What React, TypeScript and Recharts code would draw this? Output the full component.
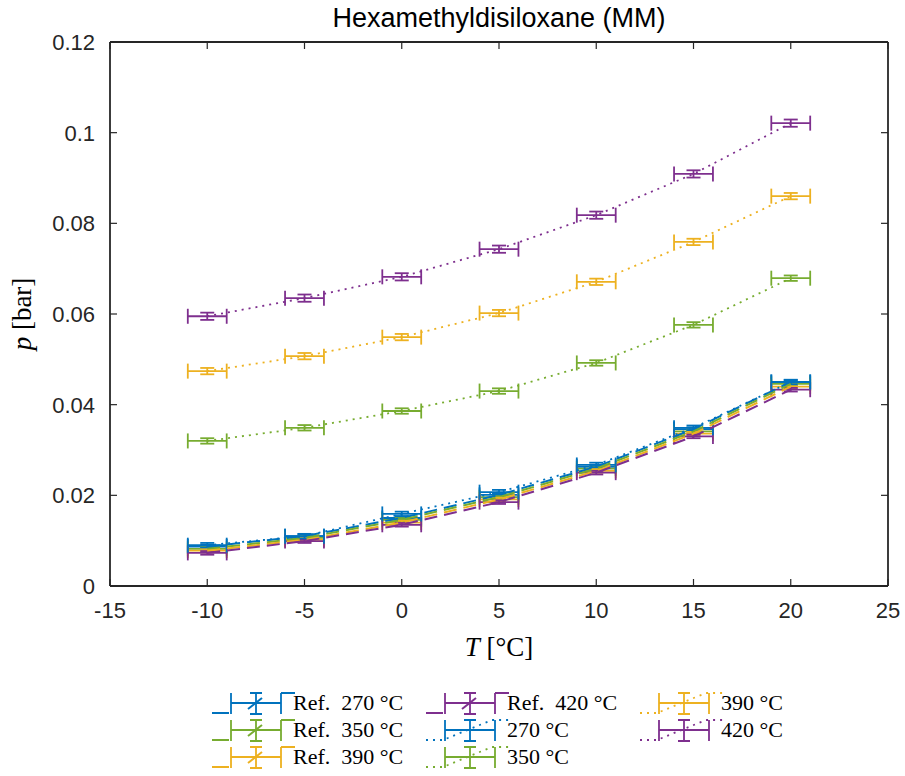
import React from 'react';
import { ScatterChart, Scatter, XAxis, YAxis, ErrorBar } from 'recharts';

// ---- data ----
const temps = [-10, -5, 0, 5, 10, 15, 20];
const tempErr = 1;

const ref270 = [0.0087, 0.0110, 0.0150, 0.0201, 0.0263, 0.0346, 0.0450];
const ref350 = [0.0082, 0.0106, 0.0146, 0.0196, 0.0259, 0.0341, 0.0446];
const ref390 = [0.0078, 0.0102, 0.0140, 0.0191, 0.0254, 0.0336, 0.0440];
const ref420 = [0.0073, 0.0099, 0.0135, 0.0185, 0.0250, 0.0330, 0.0433];

const meas270 = [0.0090, 0.0110, 0.0159, 0.0207, 0.0267, 0.0349, 0.0450];
const meas350 = [0.0320, 0.0349, 0.0386, 0.0430, 0.0492, 0.0576, 0.0679];
const meas390 = [0.0474, 0.0507, 0.0549, 0.0602, 0.0671, 0.0759, 0.0860];
const meas420 = [0.0595, 0.0635, 0.0682, 0.0743, 0.0818, 0.0909, 0.1021];

const refErr = [0.0004, 0.0004, 0.0004, 0.0004];
const measErr = [0.0005, 0.0006, 0.0007, 0.0008];

const xTicks = [-15, -10, -5, 0, 5, 10, 15, 20, 25];
const yTicks = [0, 0.02, 0.04, 0.06, 0.08, 0.1, 0.12];
const yTickLabels = ['0', '0.02', '0.04', '0.06', '0.08', '0.1', '0.12'];

const names = ['Ref.\u00A0\u00A0270\u00A0°C', 'Ref.\u00A0\u00A0350\u00A0°C', 'Ref.\u00A0\u00A0390\u00A0°C', 'Ref.\u00A0\u00A0420\u00A0°C', '270\u00A0°C', '350\u00A0°C', '390\u00A0°C', '420\u00A0°C'];
const colors = ['#0072BD', '#77AC30', '#EDB120', '#7E2F8E', '#0072BD', '#77AC30', '#EDB120', '#7E2F8E'];

const build = (vals: number[], ye: number) =>
  temps.map((t, i) => ({ x: t, y: vals[i], xe: tempErr, ye }));

const series = [
  { name: names[0], color: colors[0], data: build(ref270, refErr[0]), ref: true },
  { name: names[1], color: colors[1], data: build(ref350, refErr[1]), ref: true },
  { name: names[2], color: colors[2], data: build(ref390, refErr[2]), ref: true },
  { name: names[3], color: colors[3], data: build(ref420, refErr[3]), ref: true },
  { name: names[4], color: colors[4], data: build(meas270, measErr[0]), ref: false },
  { name: names[5], color: colors[5], data: build(meas350, measErr[1]), ref: false },
  { name: names[6], color: colors[6], data: build(meas390, measErr[2]), ref: false },
  { name: names[7], color: colors[7], data: build(meas420, measErr[3]), ref: false },
];

const AX = '#262626';
const SANS = '"Liberation Sans", Arial, Helvetica, sans-serif';
const SERIF = '"Liberation Serif", "Times New Roman", serif';
const DASH = '13 7';
const DOT = '2 5';

const XTickBottom = (p: any) => (
  <g>
    <line x1={p.x} x2={p.x} y1={p.y} y2={p.y - 7} stroke={AX} strokeWidth={1.2} />
    <text x={p.x} y={p.y + 32} textAnchor="middle" fontFamily={SANS} fontSize={22} fill={AX}>
      {p.payload.value}
    </text>
  </g>
);
const XTickTop = (p: any) => (
  <line x1={p.x} x2={p.x} y1={p.y} y2={p.y + 7} stroke={AX} strokeWidth={1.2} />
);
const YTickLeft = (p: any) => {
  const idx = yTicks.indexOf(p.payload.value);
  return (
    <g>
      <line x1={p.x} x2={p.x + 7} y1={p.y} y2={p.y} stroke={AX} strokeWidth={1.2} />
      <text x={p.x - 15} y={p.y + 8} textAnchor="end" fontFamily={SANS} fontSize={22} fill={AX}>
        {idx >= 0 ? yTickLabels[idx] : p.payload.value}
      </text>
    </g>
  );
};
const YTickRight = (p: any) => (
  <line x1={p.x} x2={p.x - 7} y1={p.y} y2={p.y} stroke={AX} strokeWidth={1.2} />
);

const NoShape = () => <g />;

const LegendIcon = ({ x0, y, color, isRef }: { x0: number; y: number; color: string; isRef: boolean }) => (
  <g stroke={color} strokeWidth={isRef ? 2 : 1.8} fill="none">
    {isRef ? (
      <>
        <path d={`M${x0} ${y + 10} H${x0 + 17}`} />
        <path d={`M${x0 + 36} ${y + 6} L${x0 + 50} ${y - 5}`} />
        <path d={`M${x0 + 69} ${y - 10} H${x0 + 83}`} />
      </>
    ) : (
      <path d={`M${x0} ${y + 10} H${x0 + 17} L${x0 + 66} ${y - 10} H${x0 + 83}`} strokeDasharray={DOT} />
    )}
    <path d={`M${x0 + 19} ${y} H${x0 + 69}`} strokeWidth={1.8} />
    <path d={`M${x0 + 19} ${y - 10} V${y + 11} M${x0 + 69} ${y - 10} V${y + 11}`} strokeWidth={1.8} />
    <path d={`M${x0 + 44} ${y - 10} V${y + 11} M${x0 + 38} ${y - 10} H${x0 + 50} M${x0 + 38} ${y + 11} H${x0 + 50}`} strokeWidth={1.8} />
  </g>
);

const legendCols = [212, 426, 640];
const legendRows = [703, 730, 757];

export default function App() {
  return (
    <div style={{ position: 'absolute', left: 0, top: 0, width: 905, height: 776, background: '#fff' }}>
      <ScatterChart
        width={905}
        height={776}
        margin={{ top: 41, right: 16, bottom: 150, left: 50 }}
      >
        <XAxis
          xAxisId="b"
          type="number"
          dataKey="x"
          domain={[-15, 25]}
          ticks={xTicks}
          allowDataOverflow
          orientation="bottom"
          height={40}
          tickSize={0}
          tickMargin={0}
          tickLine={false}
          tick={<XTickBottom />}
          axisLine={{ stroke: AX, strokeWidth: 1.8 }}
          interval={0}
        />
        <XAxis
          xAxisId="t"
          type="number"
          dataKey="x"
          domain={[-15, 25]}
          ticks={xTicks}
          allowDataOverflow
          orientation="top"
          height={1}
          tickSize={0}
          tickMargin={0}
          tickLine={false}
          tick={<XTickTop />}
          axisLine={{ stroke: AX, strokeWidth: 1.8 }}
          interval={0}
        />
        <YAxis
          yAxisId="l"
          type="number"
          dataKey="y"
          domain={[0, 0.12]}
          ticks={yTicks}
          allowDataOverflow
          orientation="left"
          width={60}
          tickSize={0}
          tickMargin={0}
          tickLine={false}
          tick={<YTickLeft />}
          axisLine={{ stroke: AX, strokeWidth: 1.8 }}
          interval={0}
        />
        <YAxis
          yAxisId="r"
          type="number"
          dataKey="y"
          domain={[0, 0.12]}
          ticks={yTicks}
          allowDataOverflow
          orientation="right"
          width={1}
          tickSize={0}
          tickMargin={0}
          tickLine={false}
          tick={<YTickRight />}
          axisLine={{ stroke: AX, strokeWidth: 1.8 }}
          interval={0}
        />
        <Scatter
          name="mirror"
          data={series[0].data}
          xAxisId="t"
          yAxisId="r"
          fill="none"
          shape={<NoShape />}
          isAnimationActive={false}
          legendType="none"
        />
        {series.map((s) => (
          <Scatter
            key={s.name}
            name={s.name}
            data={s.data}
            xAxisId="b"
            yAxisId="l"
            fill={s.color}
            shape={<NoShape />}
            line={{ stroke: s.color, strokeWidth: s.ref ? 2 : 1.8, strokeDasharray: s.ref ? DASH : DOT }}
            lineType="joint"
            isAnimationActive={false}
          >
            <ErrorBar dataKey="xe" direction="x" width={7.5} stroke={s.color} strokeWidth={1.8} isAnimationActive={false} />
            <ErrorBar dataKey="ye" direction="y" width={7} stroke={s.color} strokeWidth={1.8} isAnimationActive={false} />
          </Scatter>
        ))}
      </ScatterChart>
      <svg
        width={905}
        height={776}
        style={{ position: 'absolute', left: 0, top: 0, pointerEvents: 'none' }}
      >
        <text x={499} y={27} textAnchor="middle" fontFamily={SANS} fontSize={27} fill="#000">
          Hexamethyldisiloxane (MM)
        </text>
        <text x={499} y={656} textAnchor="middle" fontFamily={SERIF} fontSize={27} fill="#000">
          <tspan fontStyle="italic">T</tspan>
          <tspan>{'\u00A0[°C]'}</tspan>
        </text>
        <text
          x={0}
          y={0}
          transform="translate(31 314) rotate(-90)"
          textAnchor="middle"
          fontFamily={SERIF}
          fontSize={27}
          fill="#000"
        >
          <tspan fontStyle="italic">p</tspan>
          <tspan>{'\u00A0[bar]'}</tspan>
        </text>
        {series.map((s, i) => {
          const col = Math.floor(i / 3);
          const row = i % 3;
          const x0 = legendCols[col];
          const y = legendRows[row];
          return (
            <g key={s.name}>
              <LegendIcon x0={x0} y={y} color={s.color} isRef={s.ref} />
              <text x={x0 + 81} y={y + 7} fontFamily={SERIF} fontSize={22} fill="#000">
                {s.name}
              </text>
            </g>
          );
        })}
      </svg>
    </div>
  );
}
